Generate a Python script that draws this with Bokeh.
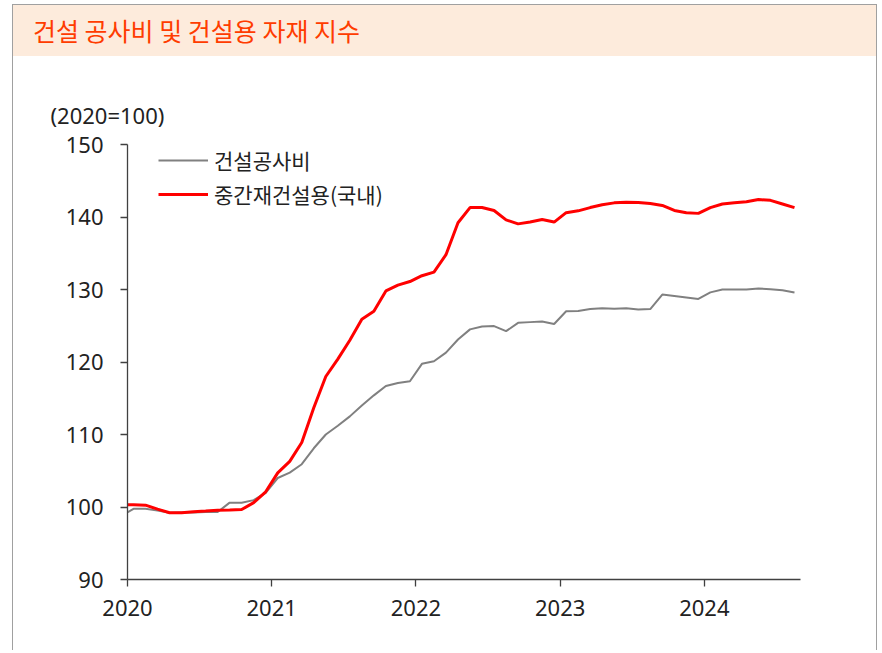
import pandas as pd
from bokeh.plotting import figure
from bokeh.models import Legend, LegendItem, FixedTicker, Range1d, ColumnDataSource, Div, Title
from bokeh.layouts import column
from bokeh.embed import file_html
from bokeh.resources import INLINE

title_text = "건설 공사비 및 건설용 자재 지수"
unit_text = "(2020=100)"
series_names = ["건설공사비", "중간재건설용(국내)"]
year_ticks = [2020, 2021, 2022, 2023, 2024]
y_ticks = [90, 100, 110, 120, 130, 140, 150]

# monthly observations, Dec 2019 .. Aug 2024
months = pd.period_range("2019-12", "2024-08", freq="M")

construction_cost = [
    98.8,
    99.75, 99.75, 99.5, 99.2, 99.25, 99.25, 99.3, 99.3, 100.6, 100.6, 100.95, 101.95,
    104.0, 104.75, 105.9, 108.1, 110.0, 111.2, 112.5, 114.0, 115.4, 116.7, 117.1, 117.35,
    119.75, 120.1, 121.3, 123.1, 124.5, 124.9, 124.95, 124.25, 125.4, 125.5, 125.6, 125.25,
    127.0, 127.05, 127.3, 127.4, 127.35, 127.4, 127.25, 127.3, 129.3, 129.1, 128.9, 128.7,
    129.6, 130.0, 130.0, 130.0, 130.15, 130.05, 129.9, 129.6,
]
intermediate_goods = [
    100.3,
    100.3, 100.25, 99.7, 99.2, 99.2, 99.35, 99.45, 99.56, 99.6, 99.65, 100.6, 102.1,
    104.7, 106.3, 108.9, 113.7, 118.0, 120.4, 123.0, 125.9, 127.0, 129.8, 130.6, 131.1,
    131.9, 132.4, 134.8, 139.2, 141.3, 141.3, 140.9, 139.6, 139.05, 139.3, 139.65, 139.3,
    140.6, 140.85, 141.3, 141.7, 141.95, 142.05, 142.0, 141.85, 141.6, 140.9, 140.6, 140.5,
    141.3, 141.8, 141.95, 142.1, 142.4, 142.3, 141.8, 141.3,
]

# x position: fractional year at mid-month
xpos = [m.year + (m.month - 0.5) / 12 for m in months]
src = ColumnDataSource(dict(x=xpos, a=construction_cost, b=intermediate_goods))

KR = "Noto Sans CJK KR"
NUM = "Noto Sans"
W = 863

# ---- title band ----
band = Div(text=title_text, width=W, height=51, margin=0,
           styles={"background-color": "#FDEBDC", "color": "#FF3C00",
                   "font-family": KR, "font-size": "25px", "line-height": "51px",
                   "padding-left": "20px", "box-sizing": "border-box",
                   "white-space": "nowrap"})

# ---- chart ----
p = figure(width=W, height=594, margin=0,
           x_range=Range1d(2020, 2024 + 8 / 12), y_range=Range1d(90, 150),
           toolbar_location=None, output_backend="svg",
           min_border_left=114, min_border_right=76, min_border_top=88, min_border_bottom=71)
p.grid.visible = False
p.outline_line_color = None
p.background_fill_color = "white"
p.border_fill_color = "white"

p.title = Title(text=unit_text, align="left", offset=-77, standoff=30,
                text_font=NUM, text_font_size="22px", text_font_style="normal",
                text_color="#222222")

for ax in (p.xaxis[0], p.yaxis[0]):
    ax.axis_line_color = "#404040"
    ax.axis_line_width = 1.3
    ax.major_tick_line_color = "#404040"
    ax.major_tick_line_width = 1.3
    ax.minor_tick_line_color = None
    ax.major_tick_in = 0
    ax.major_tick_out = 7
    ax.major_label_text_font = NUM
    ax.major_label_text_font_size = "22px"
    ax.major_label_text_color = "#222222"

p.xaxis.ticker = FixedTicker(ticks=year_ticks)
p.yaxis.ticker = FixedTicker(ticks=y_ticks)
p.xaxis.major_label_standoff = 13
p.yaxis.major_label_standoff = 17

r_gray = p.line("x", "a", source=src, line_color="#808080", line_width=2)
r_red = p.line("x", "b", source=src, line_color="#FF0000", line_width=3)

legend = Legend(items=[LegendItem(label=series_names[0], renderers=[r_gray]),
                       LegendItem(label=series_names[1], renderers=[r_red])],
                location=(31, 370), orientation="vertical",
                glyph_width=50, glyph_height=30, label_height=30, label_standoff=6,
                spacing=4, padding=0, margin=0,
                border_line_color=None, background_fill_alpha=0,
                label_text_font=KR, label_text_font_size="21px", label_text_color="#222222")
p.add_layout(legend, "center")

layout = column(band, p, spacing=0, margin=(4, 0, 0, 12),
                styles={"border-top": "1px solid #A0A0A0",
                        "border-left": "1px solid #A0A0A0",
                        "border-right": "1px solid #A0A0A0"})

open("out.html", "w").write(file_html(layout, INLINE))
